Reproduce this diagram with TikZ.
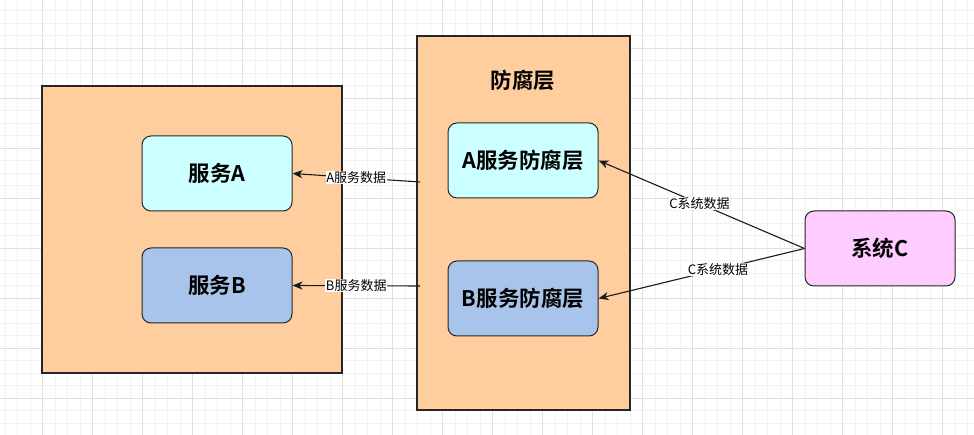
\documentclass[tikz,border=0pt]{standalone}
\usepackage{fontspec}
\setmainfont{Liberation Sans}
\newfontfamily\cjk{Noto Sans CJK SC}
\newfontfamily\cjkb{Noto Sans CJK SC Bold}
\usetikzlibrary{arrows.meta}
\definecolor{cont}{HTML}{FFCE9F}
\definecolor{cyanbox}{HTML}{CCFFFF}
\definecolor{bluebox}{HTML}{A9C4EB}
\definecolor{pinkbox}{HTML}{FFCCFF}
\definecolor{gridminor}{HTML}{F2F2F2}
\definecolor{gridmajor}{HTML}{E0E0E0}
\definecolor{edge}{HTML}{1A1A1A}
\tikzset{
  container/.style={draw=black!85, fill=cont, line width=1.1pt, inner sep=0pt},
  svc/.style={draw=black!85, line width=1pt, rounded corners=9pt, minimum width=150pt, minimum height=75pt, inner sep=0pt, font=\cjkb\fontsize{21.5}{21.5}\selectfont},
  flow/.style={draw=edge, line width=1.1pt, -{Stealth[length=10pt,width=8pt,inset=3pt]}},
  elabel/.style={fill=white, inner sep=0.5pt, font=\cjk\fontsize{13}{13}\selectfont}
}
\begin{document}
\begin{tikzpicture}[x=1pt,y=-1pt]
\useasboundingbox (0,0) rectangle (974,435);
\fill[white] (0,0) rectangle (974,435);
% grid
\foreach \i in {0,...,78} {
  \pgfmathsetmacro{\gx}{5+12.5*\i}
  \draw[gridminor, line width=0.7pt] (\gx,0) -- (\gx,435);
}
\foreach \i in {0,...,35} {
  \pgfmathsetmacro{\gy}{10.5+12.5*\i}
  \draw[gridminor, line width=0.7pt] (0,\gy) -- (974,\gy);
}
\foreach \i in {0,...,19} {
  \pgfmathsetmacro{\gx}{42.5+50*\i}
  \draw[gridmajor, line width=0.8pt] (\gx,0) -- (\gx,435);
}
\foreach \i in {0,...,8} {
  \pgfmathsetmacro{\gy}{48+50*\i}
  \draw[gridmajor, line width=0.8pt] (0,\gy) -- (974,\gy);
}
% containers
\node[container, minimum width=300pt, minimum height=287pt] (left) at (192,229.5) {};
\node[container, minimum width=213pt, minimum height=374pt] (mid) at (523.5,223) {};
\node[font=\cjkb\fontsize{21.5}{21.5}\selectfont] (midlabel) at (523,80) {防腐层};
% boxes
\node[svc, fill=cyanbox] (sa) at (217,173.5) {服务A};
\node[svc, fill=bluebox] (sb) at (217,285.5) {服务B};
\node[svc, fill=cyanbox] (aa) at (523,160.5) {A服务防腐层};
\node[svc, fill=bluebox] (ba) at (523,298.5) {B服务防腐层};
\node[svc, fill=pinkbox] (sc) at (880,248.5) {系统C};
% edges
\coordinate (ea) at (420,182);
\coordinate (eb) at (420,286);
\draw[flow] (ea) -- (sa.east) node[elabel, pos=0.5] {A服务数据};
\draw[flow] (eb) -- (sb.east) node[elabel, pos=0.5] {B服务数据};
\draw[flow] (sc.west) -- (aa.east) node[elabel, pos=0.51] {C系统数据};
\draw[flow] (sc.west) -- (ba.east) node[elabel, pos=0.42] {C系统数据};
\end{tikzpicture}
\end{document}
